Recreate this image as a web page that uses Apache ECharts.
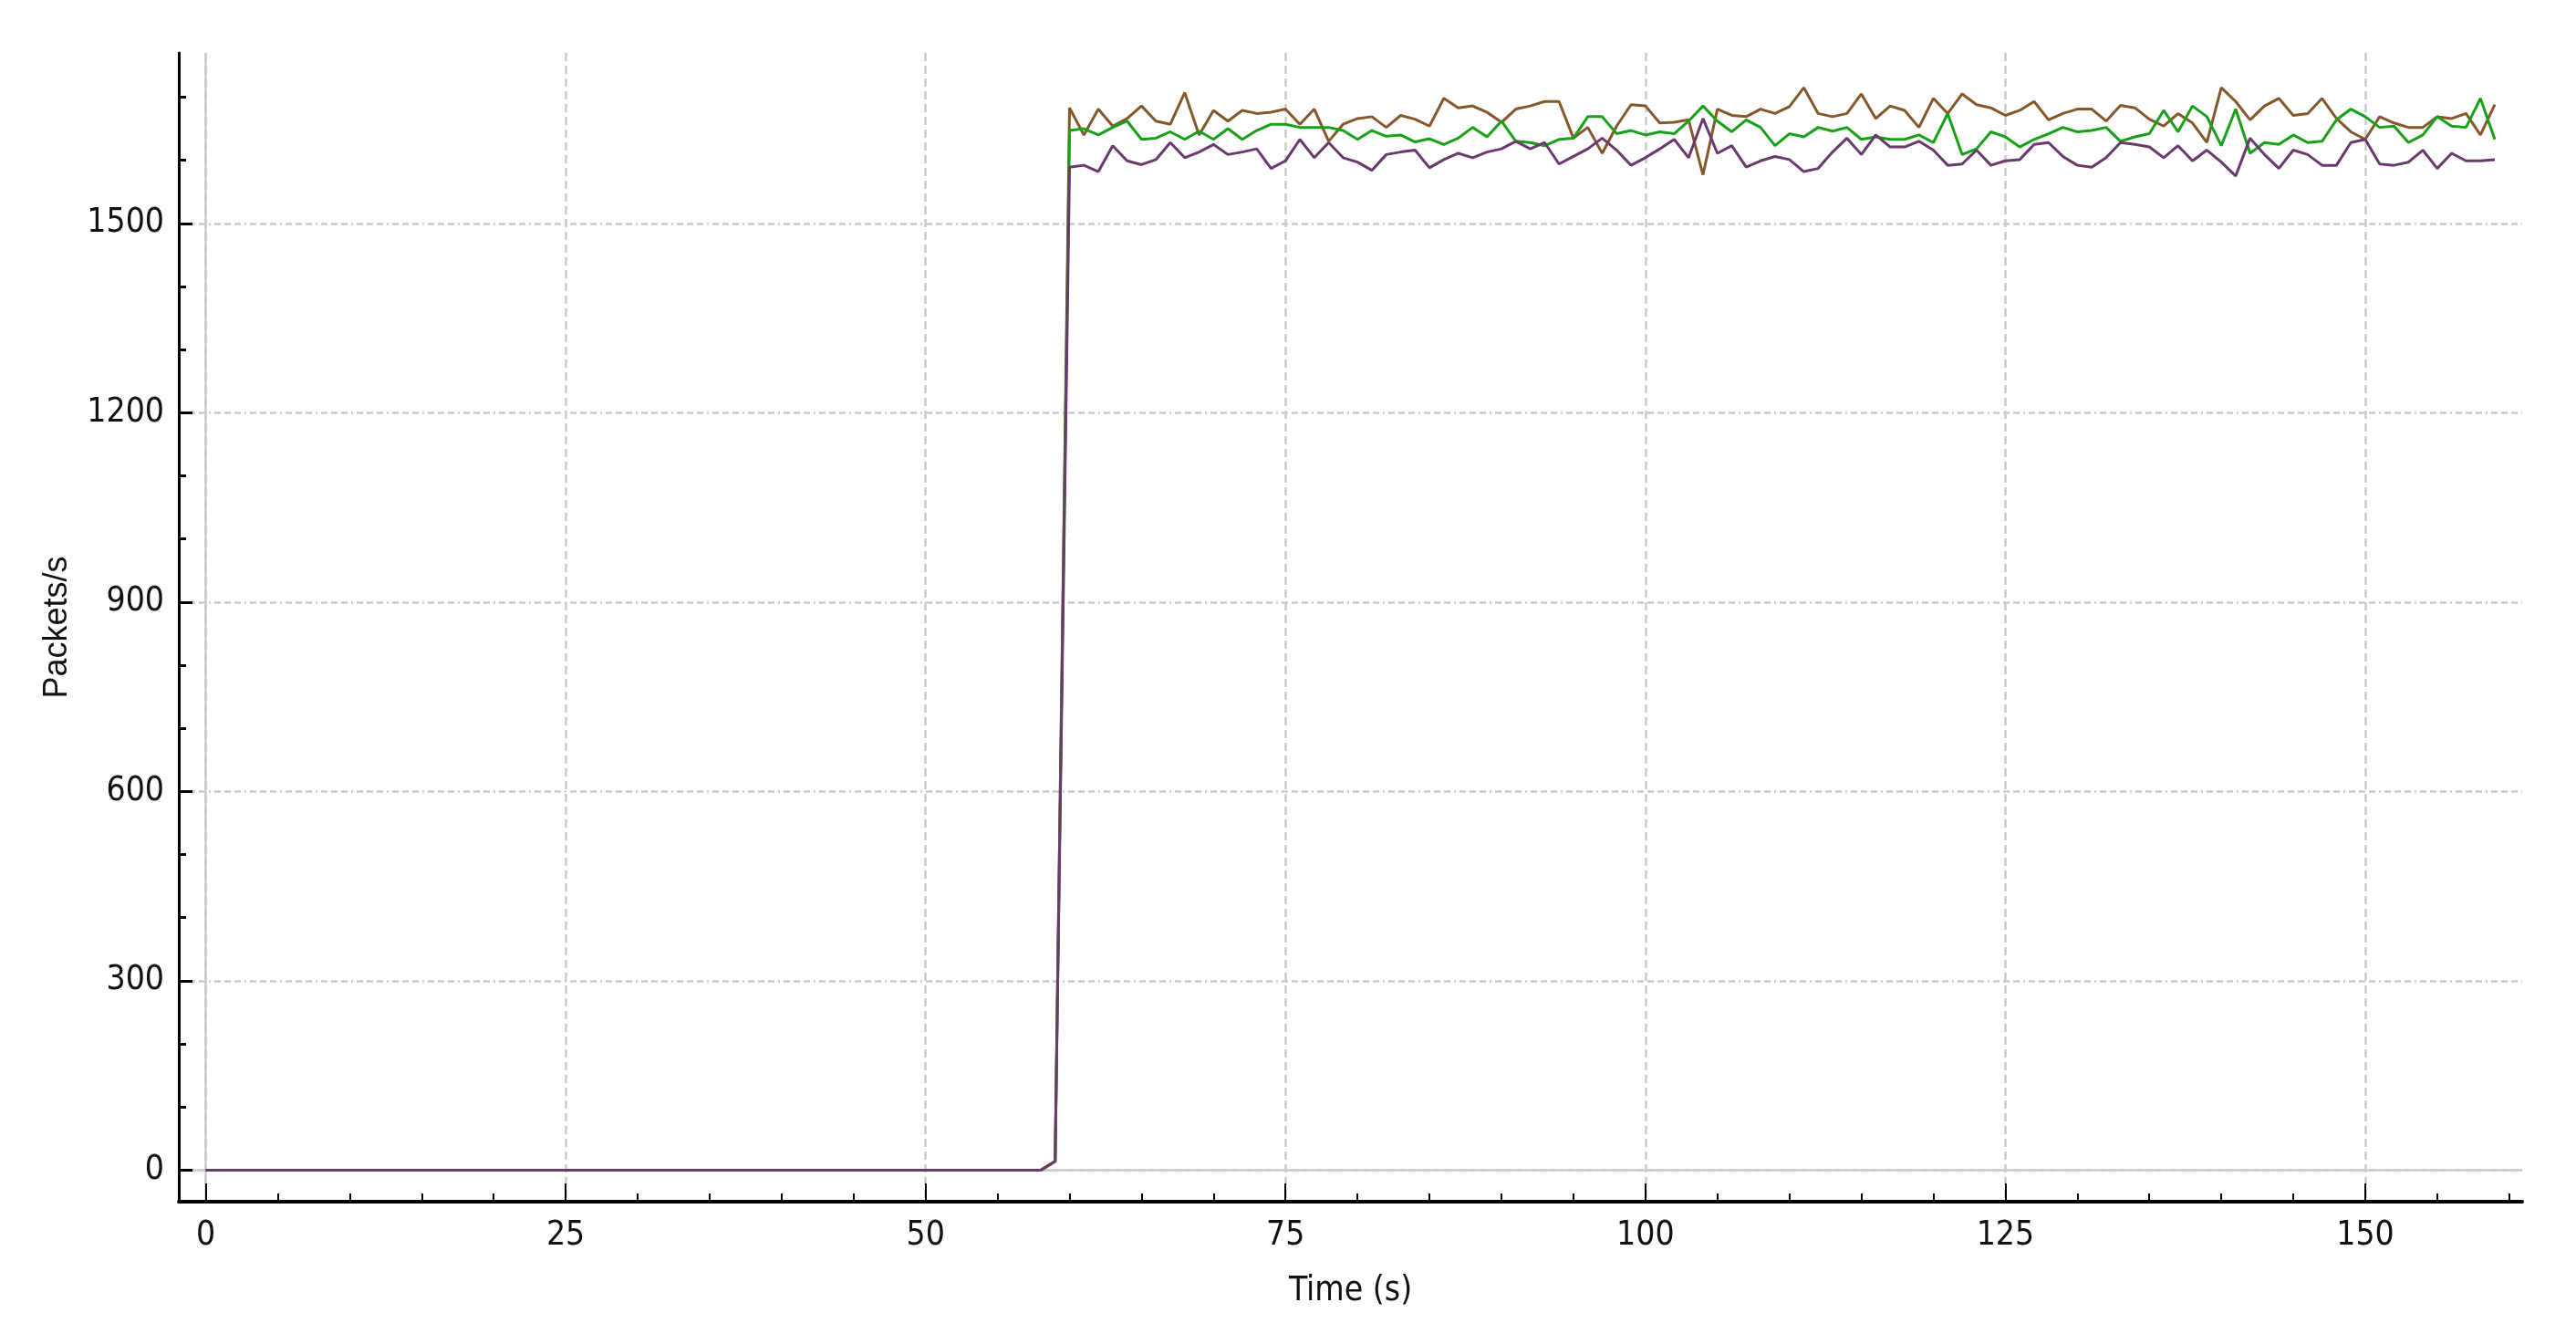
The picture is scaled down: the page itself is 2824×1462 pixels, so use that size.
<!DOCTYPE html>
<html style="height: 100%">

<head>
  <meta charset="utf-8">
  <script type="text/javascript" src="https://cdn.jsdelivr.net/npm/echarts@6/dist/echarts.min.js"></script>
  <style>
    html, body { margin: 0; padding: 0; background: #fff; }
    #container { width: 2824px; height: 1462px; }
  </style>
</head>

<body>
  <div id="container"></div>
  <script type="text/javascript">
    // time stamps (s), one sample per second
    var seconds = [
      0, 1, 2, 3, 4, 5, 6, 7, 8, 9, 10, 11, 12, 13, 14, 15, 16, 17, 18, 19,
      20, 21, 22, 23, 24, 25, 26, 27, 28, 29, 30, 31, 32, 33, 34, 35, 36, 37, 38, 39,
      40, 41, 42, 43, 44, 45, 46, 47, 48, 49, 50, 51, 52, 53, 54, 55, 56, 57, 58, 59,
      60, 61, 62, 63, 64, 65, 66, 67, 68, 69, 70, 71, 72, 73, 74, 75, 76, 77, 78, 79,
      80, 81, 82, 83, 84, 85, 86, 87, 88, 89, 90, 91, 92, 93, 94, 95, 96, 97, 98, 99,
      100, 101, 102, 103, 104, 105, 106, 107, 108, 109, 110, 111, 112, 113, 114, 115, 116, 117, 118, 119,
      120, 121, 122, 123, 124, 125, 126, 127, 128, 129, 130, 131, 132, 133, 134, 135, 136, 137, 138, 139,
      140, 141, 142, 143, 144, 145, 146, 147, 148, 149, 150, 151, 152, 153, 154, 155, 156, 157, 158, 159
    ];
    // 0..58 s: no traffic, 59 s: first packets
    var idle = [
      0, 0, 0, 0, 0, 0, 0, 0, 0, 0, 0, 0, 0, 0, 0, 0, 0, 0, 0, 0,
      0, 0, 0, 0, 0, 0, 0, 0, 0, 0, 0, 0, 0, 0, 0, 0, 0, 0, 0, 0,
      0, 0, 0, 0, 0, 0, 0, 0, 0, 0, 0, 0, 0, 0, 0, 0, 0, 0, 0, 14
    ];
    // 60..159 s
    var brownRate = [
      1683, 1640, 1681, 1654, 1666, 1686, 1662, 1657, 1707, 1640,
      1679, 1662, 1679, 1674, 1676, 1681, 1657, 1681, 1630, 1657,
      1666, 1669, 1652, 1671, 1665, 1654, 1698, 1683, 1686, 1676,
      1660, 1681, 1686, 1693, 1693, 1635, 1652, 1611, 1654, 1688,
      1686, 1659, 1660, 1664, 1577, 1681, 1671, 1669, 1681, 1674,
      1685, 1715, 1674, 1669, 1674, 1705, 1666, 1686, 1679, 1652,
      1698, 1674, 1705, 1688, 1683, 1671, 1679, 1693, 1664, 1674,
      1681, 1681, 1662, 1687, 1683, 1665, 1654, 1674, 1659, 1628,
      1715, 1693, 1664, 1686, 1698, 1671, 1674, 1698, 1666, 1645,
      1633, 1669, 1659, 1652, 1652, 1669, 1666, 1674, 1640, 1688
    ];
    var greenRate = [
      1647, 1650, 1640, 1652, 1662, 1633, 1635, 1645, 1633, 1646,
      1633, 1650, 1633, 1647, 1657, 1657, 1652, 1652, 1652, 1647,
      1633, 1647, 1638, 1640, 1629, 1634, 1625, 1635, 1652, 1637,
      1662, 1630, 1628, 1623, 1633, 1635, 1669, 1669, 1642, 1647,
      1640, 1645, 1642, 1662, 1686, 1662, 1645, 1664, 1652, 1623,
      1642, 1637, 1652, 1646, 1652, 1633, 1637, 1633, 1633, 1640,
      1628, 1674, 1609, 1618, 1645, 1637, 1621, 1633, 1642, 1652,
      1645, 1647, 1652, 1630, 1637, 1642, 1679, 1645, 1686, 1669,
      1623, 1681, 1611, 1628, 1625, 1640, 1628, 1630, 1664, 1681,
      1669, 1652, 1654, 1628, 1640, 1669, 1654, 1652, 1698, 1633
    ];
    var purpleRate = [
      1589, 1592, 1582, 1623, 1599, 1593, 1601, 1628, 1604, 1613,
      1625, 1609, 1613, 1618, 1587, 1599, 1633, 1604, 1628, 1604,
      1597, 1584, 1609, 1613, 1616, 1588, 1601, 1611, 1604, 1613,
      1618, 1630, 1618, 1628, 1594, 1606, 1618, 1635, 1616, 1592,
      1604, 1618, 1633, 1604, 1666, 1611, 1623, 1589, 1599, 1606,
      1601, 1582, 1587, 1613, 1635, 1609, 1640, 1621, 1621, 1630,
      1616, 1592, 1594, 1616, 1592, 1599, 1601, 1625, 1628, 1606,
      1592, 1589, 1604, 1628, 1625, 1621, 1604, 1623, 1599, 1616,
      1597, 1575, 1635, 1609, 1587, 1616, 1609, 1592, 1592, 1628,
      1633, 1594, 1592, 1597, 1616, 1587, 1611, 1599, 1599, 1601
    ];
    var xMajor = [0, 25, 50, 75, 100, 125, 150];
    var xMinor = [5, 10, 15, 20, 30, 35, 40, 45, 55, 60, 65, 70, 80, 85, 90, 95,
      105, 110, 115, 120, 130, 135, 140, 145, 155, 160];
    var yMajor = [0, 300, 600, 900, 1200, 1500];
    var yMinor = [100, 200, 400, 500, 700, 800, 1000, 1100, 1300, 1400, 1600, 1700];

    var narrow = "'Liberation Sans Narrow', 'DejaVu Sans Condensed', 'Liberation Sans', sans-serif";
    var xMin = -1.87, xMax = 160.9, yMin = -50, yMax = 1770;

    function pairs(rate) {
      var vals = idle.concat(rate);
      return seconds.map(function (s, i) { return [s, vals[i]]; });
    }
    function lineSeries(name, rate, color) {
      return {
        name: name,
        type: 'line',
        symbol: 'none',
        xAxisIndex: 0,
        yAxisIndex: 0,
        lineStyle: { color: color, width: 3 },
        itemStyle: { color: color },
        data: pairs(rate)
      };
    }
    function plainAxis(extra) {
      var a = {
        type: 'value',
        axisLine: { show: false, onZero: false },
        axisTick: { show: false },
        axisLabel: { show: false },
        splitLine: { show: false }
      };
      for (var k in extra) a[k] = extra[k];
      return a;
    }
    function plainNumber(v) {
      return String(v);
    }

    var chart = echarts.init(document.getElementById('container'));
    var option = {
      animation: false,
      backgroundColor: '#ffffff',
      grid: { left: 196, right: 59, top: 58, bottom: 145 },
      xAxis: [{
        type: 'value', position: 'bottom', min: xMin, max: xMax,
        name: 'Time (s)', nameLocation: 'middle', nameGap: 80,
        nameTextStyle: { fontFamily: narrow, fontSize: 37, color: '#111' },
        axisLine: { onZero: false, lineStyle: { color: '#000', width: 4 } },
        axisTick: { inside: true, length: 20, customValues: xMajor, lineStyle: { color: '#000', width: 2 } },
        axisLabel: { customValues: xMajor, margin: 19, fontFamily: narrow, fontSize: 37, color: '#111', formatter: plainNumber },
        splitLine: { show: true, lineStyle: { color: '#cbcbcb', width: 2.5, type: [9, 5] } }
      }, plainAxis({
        position: 'bottom', min: xMin, max: xMax,
        axisTick: { show: true, inside: true, length: 9, customValues: xMinor, lineStyle: { color: '#000', width: 2 } }
      }), plainAxis({
        position: 'bottom', min: xMin, max: xMax,
        axisTick: { show: false, customValues: [0] },
        splitLine: { show: true, lineStyle: { color: '#cbcbcb', width: 2.5, type: 'solid' } }
      })],
      yAxis: [{
        type: 'value', position: 'left', min: yMin, max: yMax,
        name: 'Packets/s', nameLocation: 'middle', nameGap: 115,
        nameTextStyle: { fontFamily: "'Liberation Sans', sans-serif", fontSize: 36, color: '#111' },
        axisLine: { onZero: false, lineStyle: { color: '#000', width: 3 } },
        axisTick: { inside: true, length: 15, customValues: yMajor, lineStyle: { color: '#000', width: 3 } },
        axisLabel: { customValues: yMajor, margin: 16, fontFamily: narrow, fontSize: 37, color: '#111', formatter: plainNumber },
        splitLine: { show: true, lineStyle: { color: '#cbcbcb', width: 2.5, type: [7, 4, 7, 4, 7, 4, 2, 4] } }
      }, plainAxis({
        position: 'left', min: yMin, max: yMax,
        axisTick: { show: true, inside: true, length: 8, customValues: yMinor, lineStyle: { color: '#000', width: 3 } }
      }), plainAxis({
        position: 'left', min: yMin, max: yMax,
        axisTick: { show: false, customValues: [0] },
        splitLine: { show: true, lineStyle: { color: '#cbcbcb', width: 2.5, type: 'solid' } }
      })],
      series: [
        lineSeries('brown', brownRate, '#84582b'),
        lineSeries('green', greenRate, '#19a019'),
        lineSeries('purple', purpleRate, '#6a3a6c')
      ]
    };
    chart.setOption(option);
  </script>
</body>

</html>
